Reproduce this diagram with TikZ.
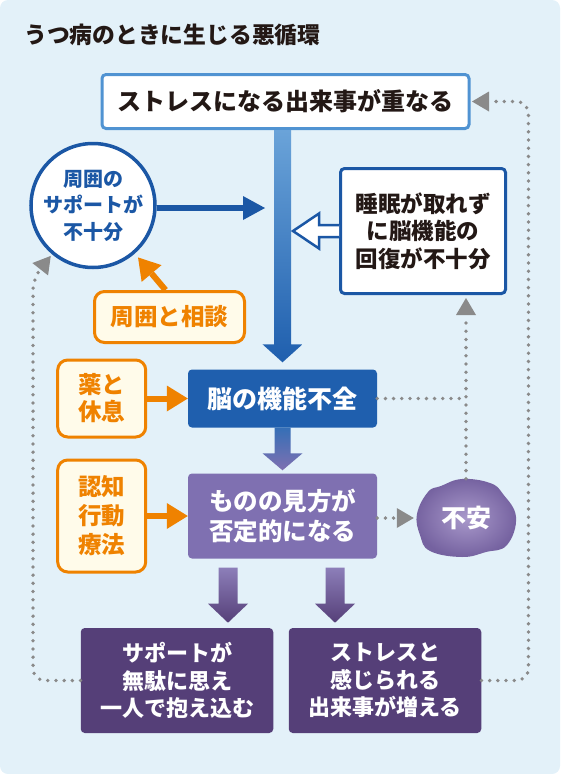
\documentclass[tikz,border=0pt]{standalone}
\usepackage{fontspec}
\setmainfont{Noto Sans CJK JP}
\usetikzlibrary{arrows.meta,calc}
\definecolor{bgblue}{HTML}{E3F1F9}
\definecolor{txt}{HTML}{231815}
\definecolor{lineblue}{HTML}{5093D2}
\definecolor{navy}{HTML}{1B57A5}
\definecolor{brainblue}{HTML}{1F5FAE}
\definecolor{viewpurple}{HTML}{7F70B1}
\definecolor{darkpurple}{HTML}{553F78}
\definecolor{cloudin}{HTML}{A999CB}
\definecolor{cloudout}{HTML}{7562A0}
\definecolor{myorange}{HTML}{EF8200}
\definecolor{cream}{HTML}{FFFBEA}
\definecolor{dotgray}{HTML}{8A8A8A}
\newcommand\blockarrow[7]{\shade[top color=#6,bottom color=#7]
  ($(#1)+(-#3,0)$) -- ($(#2)+(-#3,-#5)$) -- ($(#2)+(-#4,-#5)$) -- (#2)
  -- ($(#2)+(#4,-#5)$) -- ($(#2)+(#3,-#5)$) -- ($(#1)+(#3,0)$) -- cycle;}
\newcommand\fs[2]{\fontsize{#1}{#2}\selectfont}
\begin{document}
\begin{tikzpicture}
  [x=1pt,y=-1pt,every node/.style={font=\bfseries,align=center,inner sep=0pt},
   whitebox/.style={rectangle,rounded corners=4pt,fill=white,line width=3pt,text=txt},
   solidbox/.style={rectangle,rounded corners=4pt,text=white},
   orangebox/.style={rectangle,rounded corners=10pt,draw=myorange,fill=cream,line width=3pt,text=myorange},
   orangearrow/.style={draw=myorange,line width=6pt,-{Triangle[length=21pt,width=26pt,line width=0pt]}},
   dots/.style={draw=dotgray,line width=3.8pt,line cap=round,dash pattern=on 0pt off 8.2pt},
   graytip/.style={-{Triangle[length=17pt,width=20pt,line width=0pt,fill=dotgray,color=dotgray]}}]
  \useasboundingbox (0,0) rectangle (560,774);
  \fill[bgblue,rounded corners=8pt] (0,0) rectangle (560,774);

  \node[anchor=west,text=txt,font=\bfseries\fs{22.8}{27}] (title) at (24,35) {うつ病のときに生じる悪循環};
  \node[whitebox,draw=lineblue,minimum width=367pt,minimum height=54pt,font=\bfseries\fs{24}{28}] (stress) at (285.5,101.5) {ストレスになる出来事が重なる};
  \node[circle,draw=navy,fill=white,line width=3.5pt,minimum size=124pt,text=navy,font=\bfseries\fs{20}{26.5}] (support) at (93,205.5) {周囲の\\サポートが\\不十分};
  \node[whitebox,draw=navy,minimum width=165pt,minimum height=125pt,font=\bfseries\fs{22.5}{27.5}] (sleep) at (423,231) {睡眠が取れず\\に脳機能の\\回復が不十分};
  \node[orangebox,minimum width=150pt,minimum height=51pt,font=\bfseries\fs{23.5}{28}] (consult) at (169.5,317) {周囲と相談};
  \node[solidbox,fill=brainblue,minimum width=189pt,minimum height=58pt,font=\bfseries\fs{25}{30}] (brain) at (282.5,398.5) {脳の機能不全};
  \node[solidbox,fill=viewpurple,minimum width=189pt,minimum height=85pt,font=\bfseries\fs{24.5}{30}] (view) at (282.5,516) {ものの見方が\\否定的になる};
  \node[orangebox,minimum width=88pt,minimum height=77pt,font=\bfseries\fs{23.5}{27}] (medicine) at (101.7,398.5) {薬と\\休息};
  \node[orangebox,minimum width=88pt,minimum height=112pt,font=\bfseries\fs{23.5}{29}] (cbt) at (101.7,516) {認知\\行動\\療法};
  \node[solidbox,fill=darkpurple,minimum width=192.5pt,minimum height=105pt,font=\bfseries\fs{22}{27.5}] (alone) at (177,680.5) {サポートが\\無駄に思え\\一人で抱え込む};
  \node[solidbox,fill=darkpurple,minimum width=192.5pt,minimum height=105pt,font=\bfseries\fs{22}{27.5}] (events) at (385,680.5) {ストレスと\\感じられる\\出来事が増える};

  \shade[inner color=cloudin,outer color=cloudout]
    plot[smooth cycle,tension=0.7] coordinates {(428,492) (441,486) (462,479) (490,483) (503,494)
      (516,517) (507,545) (486,552) (462,557) (430,551) (420,535) (417,514)};
  \node[minimum width=100pt,minimum height=78pt,text=white,font=\bfseries\fs{25}{30}] (anxiety) at (466,518) {不安};

  \coordinate (a1s) at (stress.south -| brain.north);
  \coordinate (a1t) at ($(brain.north)+(0,-7)$);
  \coordinate (a2t) at ($(view.north)+(0,-3)$);
  \coordinate (a3s) at ($(view.south)+(-54.5,9)$);
  \coordinate (a3t) at ($(view.south)+(-54.5,64)$);
  \coordinate (a4s) at ($(view.south)+(52.5,9)$);
  \coordinate (a4t) at ($(view.south)+(52.5,64)$);
  \blockarrow{a1s}{a1t}{8.5}{20}{18}{lineblue!85!white}{brainblue}
  \blockarrow{brain.south}{a2t}{8}{20}{17}{brainblue!90!white}{viewpurple}
  \blockarrow{a3s}{a3t}{9.5}{20}{19}{viewpurple!90!white}{darkpurple}
  \blockarrow{a4s}{a4t}{9.5}{20}{19}{viewpurple!90!white}{darkpurple}

  \coordinate (shaftL) at (265,208);
  \draw[navy,line width=6pt,-{Triangle[length=22pt,width=24pt,line width=0pt]}] (support.east |- shaftL) -- (shaftL);
  \draw[navy,line width=2.5pt,fill=white,line join=miter]
    ($(sleep.west)+(0,-6)$) -- ($(sleep.west)+(-20,-6)$) -- ($(sleep.west)+(-20,-17.5)$)
    -- ($(sleep.west)+(-46,0)$) -- ($(sleep.west)+(-20,17.5)$) -- ($(sleep.west)+(-20,6)$) -- ($(sleep.west)+(0,6)$);

  \draw[orangearrow,shorten >=5pt] ([xshift=-4pt]consult.north) -- (support.-49);
  \foreach \from/\to in {medicine/brain,cbt/view}
    \draw[orangearrow] (\from.east) -- (\to.west);

  \draw[dots] (brain.east) -- (brain.east -| anxiety.north);
  \draw[dots,graytip,shorten >=3pt] (anxiety.north) -- (anxiety.north |- sleep.south);
  \draw[dots,graytip,shorten >=2pt] (view.east |- anxiety.west) -- (anxiety.west);
  \draw[dots,graytip,rounded corners=12pt,shorten >=1.5pt] (events.east) -- ++(47,0) |- (stress.east);
  \draw[dots,graytip,rounded corners=12pt,shorten >=2pt] (alone.west) -| ($(support.230)+(-19,24)$) -- (support.230);
\end{tikzpicture}
\end{document}
